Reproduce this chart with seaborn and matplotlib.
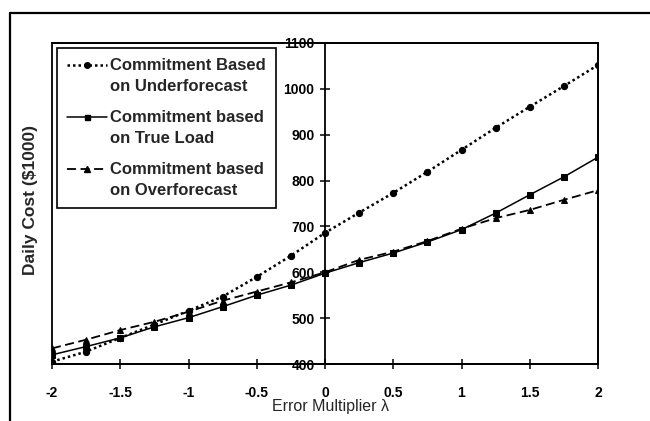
import numpy as np
import pandas as pd
import matplotlib
matplotlib.use("Agg")
import matplotlib.pyplot as plt
from matplotlib.lines import Line2D
from matplotlib.patches import Rectangle
from matplotlib.legend_handler import HandlerLine2D
import seaborn as sns

# ---- data ----
error_multiplier = [-2.0, -1.75, -1.5, -1.25, -1.0, -0.75, -0.5, -0.25, 0.0,
                    0.25, 0.5, 0.75, 1.0, 1.25, 1.5, 1.75, 2.0]
cost_underforecast = [405, 427, 457, 486, 516, 547, 590, 636, 686,
                      730, 773, 819, 867, 915, 961, 1006, 1052]
cost_true_load = [420, 438, 457, 481, 501, 525, 550, 572, 598,
                  621, 642, 666, 693, 729, 769, 808, 851]
cost_overforecast = [434, 453, 474, 492, 514, 538, 558, 578, 600,
                     627, 645, 668, 695, 718, 736, 758, 779]
series_names = ["Commitment Based\non Underforecast",
                "Commitment based\non True Load",
                "Commitment based\non Overforecast"]
x_ticks = [-2, -1.5, -1, -0.5, 0, 0.5, 1, 1.5, 2]
x_tick_labels = ["-2", "-1.5", "-1", "-0.5", "0", "0.5", "1", "1.5", "2"]
y_ticks = [400, 500, 600, 700, 800, 900, 1000, 1100]

df = pd.concat([
    pd.DataFrame({"lam": error_multiplier, "cost": vals, "series": name})
    for name, vals in zip(series_names,
                          [cost_underforecast, cost_true_load, cost_overforecast])
])

sns.set_theme(style="white")
plt.rcParams["font.family"] = ["Liberation Sans", "DejaVu Sans"]

fig = plt.figure(figsize=(6.5, 4.21), dpi=100)
ax = fig.add_axes([52 / 650, 1 - 364 / 421, (598 - 52) / 650, (364 - 43) / 421])

styles = {
    series_names[0]: dict(ls=(0, (1.0, 1.2)), marker="o", lw=1.8, ms=4.5),
    series_names[1]: dict(ls="-", marker="s", lw=1.1, ms=4.0),
    series_names[2]: dict(ls=(0, (5, 2.5)), marker="^", lw=1.3, ms=5.0),
}

handles = []
for name in series_names:
    st = styles[name]
    sub = df[df["series"] == name]
    sns.lineplot(data=sub, x="lam", y="cost", ax=ax, color="black",
                 linewidth=st["lw"], marker=st["marker"], markersize=st["ms"],
                 markeredgecolor="black", markerfacecolor="black",
                 legend=False)
    line = ax.lines[-1]
    line.set_linestyle(st["ls"])
    handles.append(Line2D([], [], color="black", linestyle=st["ls"],
                          linewidth=st["lw"], marker=st["marker"],
                          markersize=st["ms"] * 0.9))

ax.set_xlim(-2, 2)
ax.set_ylim(400, 1100)
ax.set_xticks(x_ticks)
ax.set_xticklabels(x_tick_labels)
ax.set_yticks(y_ticks)
ax.set_xlabel("")
ax.set_ylabel("")

# spines: y-axis through x = 0, frame around the plot area
ax.spines["left"].set_position(("data", 0))
for s in ["left", "right", "top", "bottom"]:
    ax.spines[s].set_color("black")
    ax.spines[s].set_linewidth(1.3)
ax.add_patch(Rectangle((0, 0), 1, 1, transform=ax.transAxes, fill=False,
                       edgecolor="black", linewidth=1.3, zorder=5,
                       clip_on=False))

ax.tick_params(axis="both", direction="inout", length=7, width=1.1,
               colors="black", labelsize=10)
ax.tick_params(axis="x", pad=12, bottom=True)
ax.tick_params(axis="y", pad=4, left=True)
for lab in ax.get_xticklabels() + ax.get_yticklabels():
    lab.set_fontweight("bold")

fig.text(330 / 650, 1 - 407 / 421, "Error Multiplier λ", ha="center",
         va="center", fontsize=11.5)
fig.text(31 / 650, 1 - 200 / 421, "Daily Cost ($1000)", ha="center",
         va="center", rotation=90, fontsize=12.5, fontweight="bold")


class RaisedHandler(HandlerLine2D):
    def create_artists(self, legend, orig_handle, xdescent, ydescent,
                       width, height, fontsize, trans):
        return super().create_artists(legend, orig_handle, xdescent,
                                      ydescent - fontsize * 1.38, width,
                                      height, fontsize, trans)


leg = fig.legend(handles, series_names, loc="upper left",
                 bbox_to_anchor=(57 / 650, 1 - 48 / 421),
                 bbox_transform=fig.transFigure, borderaxespad=0,
                 frameon=True, fancybox=False, framealpha=1,
                 edgecolor="black", fontsize=12, handlelength=2.4,
                 handletextpad=0.2, labelspacing=0.95, borderpad=0.6,
                 numpoints=1,
                 handler_map={Line2D: RaisedHandler(numpoints=1)},
                 prop={"weight": "bold", "size": 12})
leg.get_frame().set_linewidth(1.2)
for t in leg.get_texts():
    t.set_linespacing(1.52)

# outer page frame (top and left edges)
fig.add_artist(Line2D([10 / 650, 1.0], [1 - 13 / 421, 1 - 13 / 421],
                      transform=fig.transFigure, color="black", lw=1.6))
fig.add_artist(Line2D([10 / 650, 10 / 650], [0, 1 - 13 / 421],
                      transform=fig.transFigure, color="black", lw=1.6))

fig.savefig("out.png", dpi=100, facecolor="white")
